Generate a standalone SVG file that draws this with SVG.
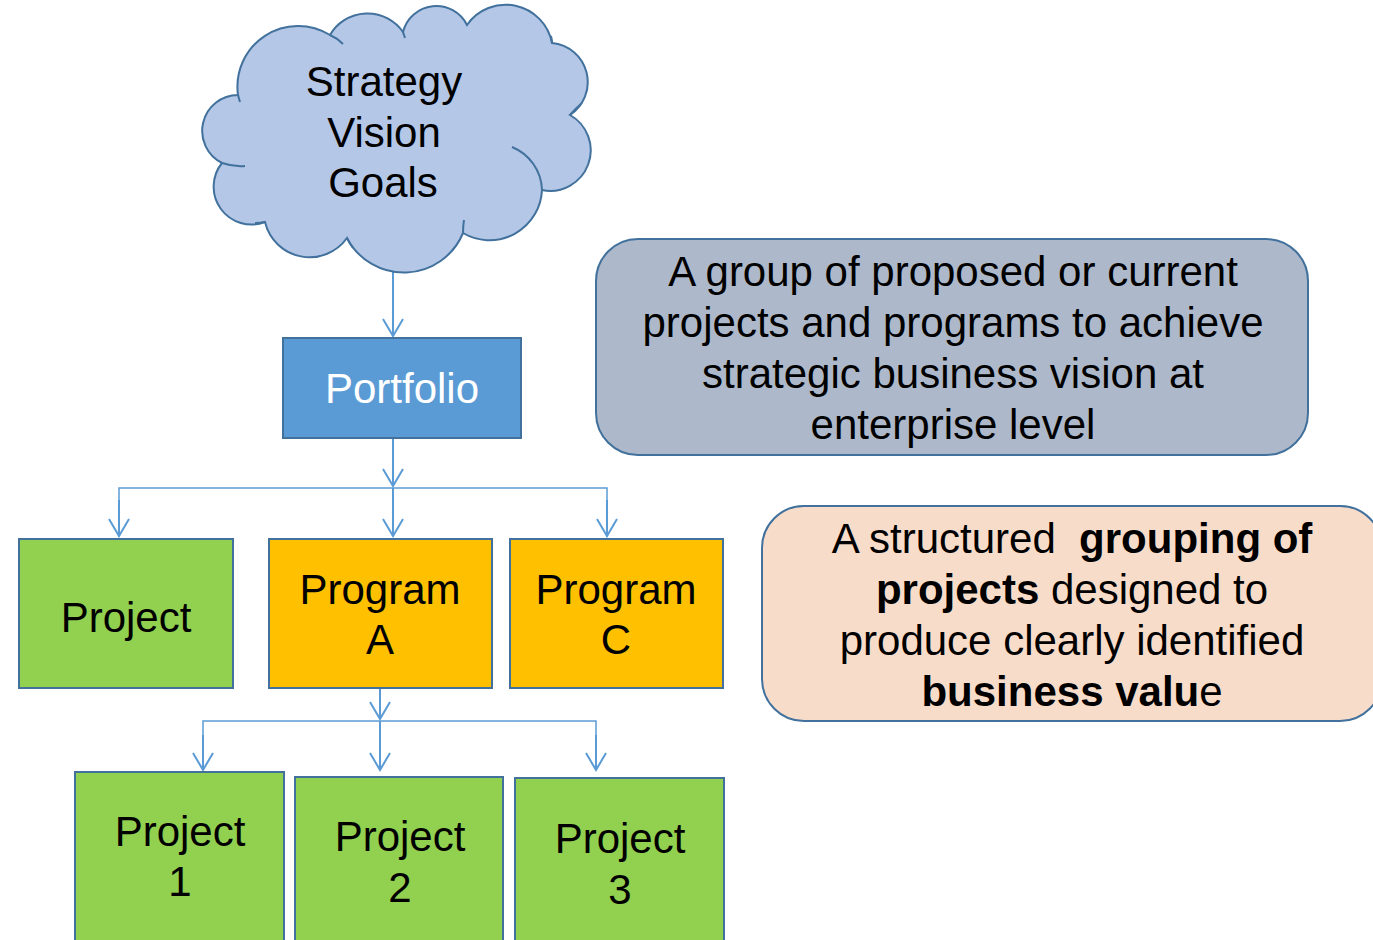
<svg xmlns="http://www.w3.org/2000/svg" width="1373" height="940" viewBox="0 0 1373 940">
<style>
  .t { font-family: "Liberation Sans", Arial, sans-serif; font-size: 42px; fill: #000; text-anchor: middle; }
  .w { fill: #fff; }
  .b { font-weight: bold; }
  .box { stroke: #41719C; stroke-width: 2; }
  .green { fill: #92D050; }
  .orange { fill: #FFC000; }
  .conn { fill: none; stroke: #5B9BD5; stroke-width: 2; }
  .bus { fill: none; stroke: #5B9BD5; stroke-width: 1.5; }
</style>
<defs>
  <marker id="arr" viewBox="0 0 20 22" refX="18" refY="11" markerWidth="20" markerHeight="22" markerUnits="userSpaceOnUse" orient="auto">
    <path d="M1,1 L18,11 L1,21" fill="none" stroke="#5B9BD5" stroke-width="2"/>
  </marker>
</defs>
<rect width="1373" height="940" fill="#fff"/>

<g id="connectors">
  <line class="conn" x1="393" y1="272" x2="393" y2="336" marker-end="url(#arr)"/>
  <line class="conn" x1="393" y1="438" x2="393" y2="486" marker-end="url(#arr)"/>
  <polyline class="bus" points="119,537 119,488 607,488 607,537"/>
  <line class="conn" x1="119" y1="500" x2="119" y2="536" marker-end="url(#arr)"/>
  <line class="conn" x1="393" y1="488" x2="393" y2="536" marker-end="url(#arr)"/>
  <line class="conn" x1="607" y1="500" x2="607" y2="536" marker-end="url(#arr)"/>
  <line class="conn" x1="380" y1="688" x2="380" y2="719" marker-end="url(#arr)"/>
  <polyline class="bus" points="203,770 203,721 596,721 596,770"/>
  <line class="conn" x1="203" y1="735" x2="203" y2="770" marker-end="url(#arr)"/>
  <line class="conn" x1="380" y1="721" x2="380" y2="770" marker-end="url(#arr)"/>
  <line class="conn" x1="596" y1="735" x2="596" y2="770" marker-end="url(#arr)"/>
</g>

<g id="cloud">
  <path d="M238,95 A60.7,60.7 0 0 1 330,35 A43.3,43.3 0 0 1 403,32 A34.3,34.3 0 0 1 467,25 A47.1,47.1 0 0 1 552,43 A39.3,39.3 0 0 1 570,115 A40.5,40.5 0 0 1 542,190 A52.5,52.5 0 0 1 463,233 A64,64 0 0 1 347,238 A45.9,45.9 0 0 1 265,222 A37.8,37.8 0 0 1 222,163 A35.9,35.9 0 0 1 238,95 Z" fill="#B4C7E7" stroke="#41719C" stroke-width="2"/>
  <path d="M512,147 A48,48 0 0 1 542,190 M222,163 Q234,167 245,166 M330,35 Q337,38 343,44 M570,115 Q576,108 582,103 M463,233 Q463,226 464,220 M347,238 Q349,243 353,248 M265,222 Q260,223 255,223 M238,95 Q239,99 240,102 M403,32 Q404,35 405,38 M552,43 Q552,40 551,36" fill="none" stroke="#41719C" stroke-width="2"/>
  <text class="t" x="384" y="96">Strategy</text>
  <text class="t" x="384" y="147">Vision</text>
  <text class="t" x="383" y="197">Goals</text>
</g>

<g id="portfolio">
  <rect class="box" x="283" y="338" width="238" height="100" fill="#5B9BD5"/>
  <text class="t w" x="402" y="403">Portfolio</text>
</g>

<g id="project">
  <rect class="box green" x="19" y="539" width="214" height="149"/>
  <text class="t" x="126" y="632">Project</text>
</g>

<g id="programA">
  <rect class="box orange" x="269" y="539" width="223" height="149"/>
  <text class="t" x="380" y="604">Program</text>
  <text class="t" x="380" y="654">A</text>
</g>

<g id="programC">
  <rect class="box orange" x="510" y="539" width="213" height="149"/>
  <text class="t" x="616" y="604">Program</text>
  <text class="t" x="616" y="654">C</text>
</g>

<g id="project1">
  <rect class="box green" x="75" y="772" width="209" height="170"/>
  <text class="t" x="180" y="846">Project</text>
  <text class="t" x="180" y="896">1</text>
</g>

<g id="project2">
  <rect class="box green" x="295" y="777" width="208" height="170"/>
  <text class="t" x="400" y="851">Project</text>
  <text class="t" x="400" y="902">2</text>
</g>

<g id="project3">
  <rect class="box green" x="515" y="778" width="209" height="170"/>
  <text class="t" x="620" y="853">Project</text>
  <text class="t" x="620" y="904">3</text>
</g>

<g id="portfolio-note">
  <rect x="596" y="239" width="712" height="216" rx="42" ry="42" fill="#ADB9CA" stroke="#41719C" stroke-width="2"/>
  <text class="t" x="953" y="286">A group of proposed or current</text>
  <text class="t" x="953" y="337">projects and programs to achieve</text>
  <text class="t" x="953" y="388">strategic business vision at</text>
  <text class="t" x="953" y="439">enterprise level</text>
</g>

<g id="program-note">
  <rect x="762" y="506" width="620" height="215" rx="42" ry="42" fill="#F8DCCA" stroke="#41719C" stroke-width="2"/>
  <text class="t" x="1072" y="553" xml:space="preserve">A structured  <tspan class="b">grouping of</tspan></text>
  <text class="t" x="1072" y="604"><tspan class="b">projects</tspan> designed to</text>
  <text class="t" x="1072" y="655">produce clearly identified</text>
  <text class="t" x="1072" y="706"><tspan class="b">business valu</tspan>e</text>
</g>
</svg>
